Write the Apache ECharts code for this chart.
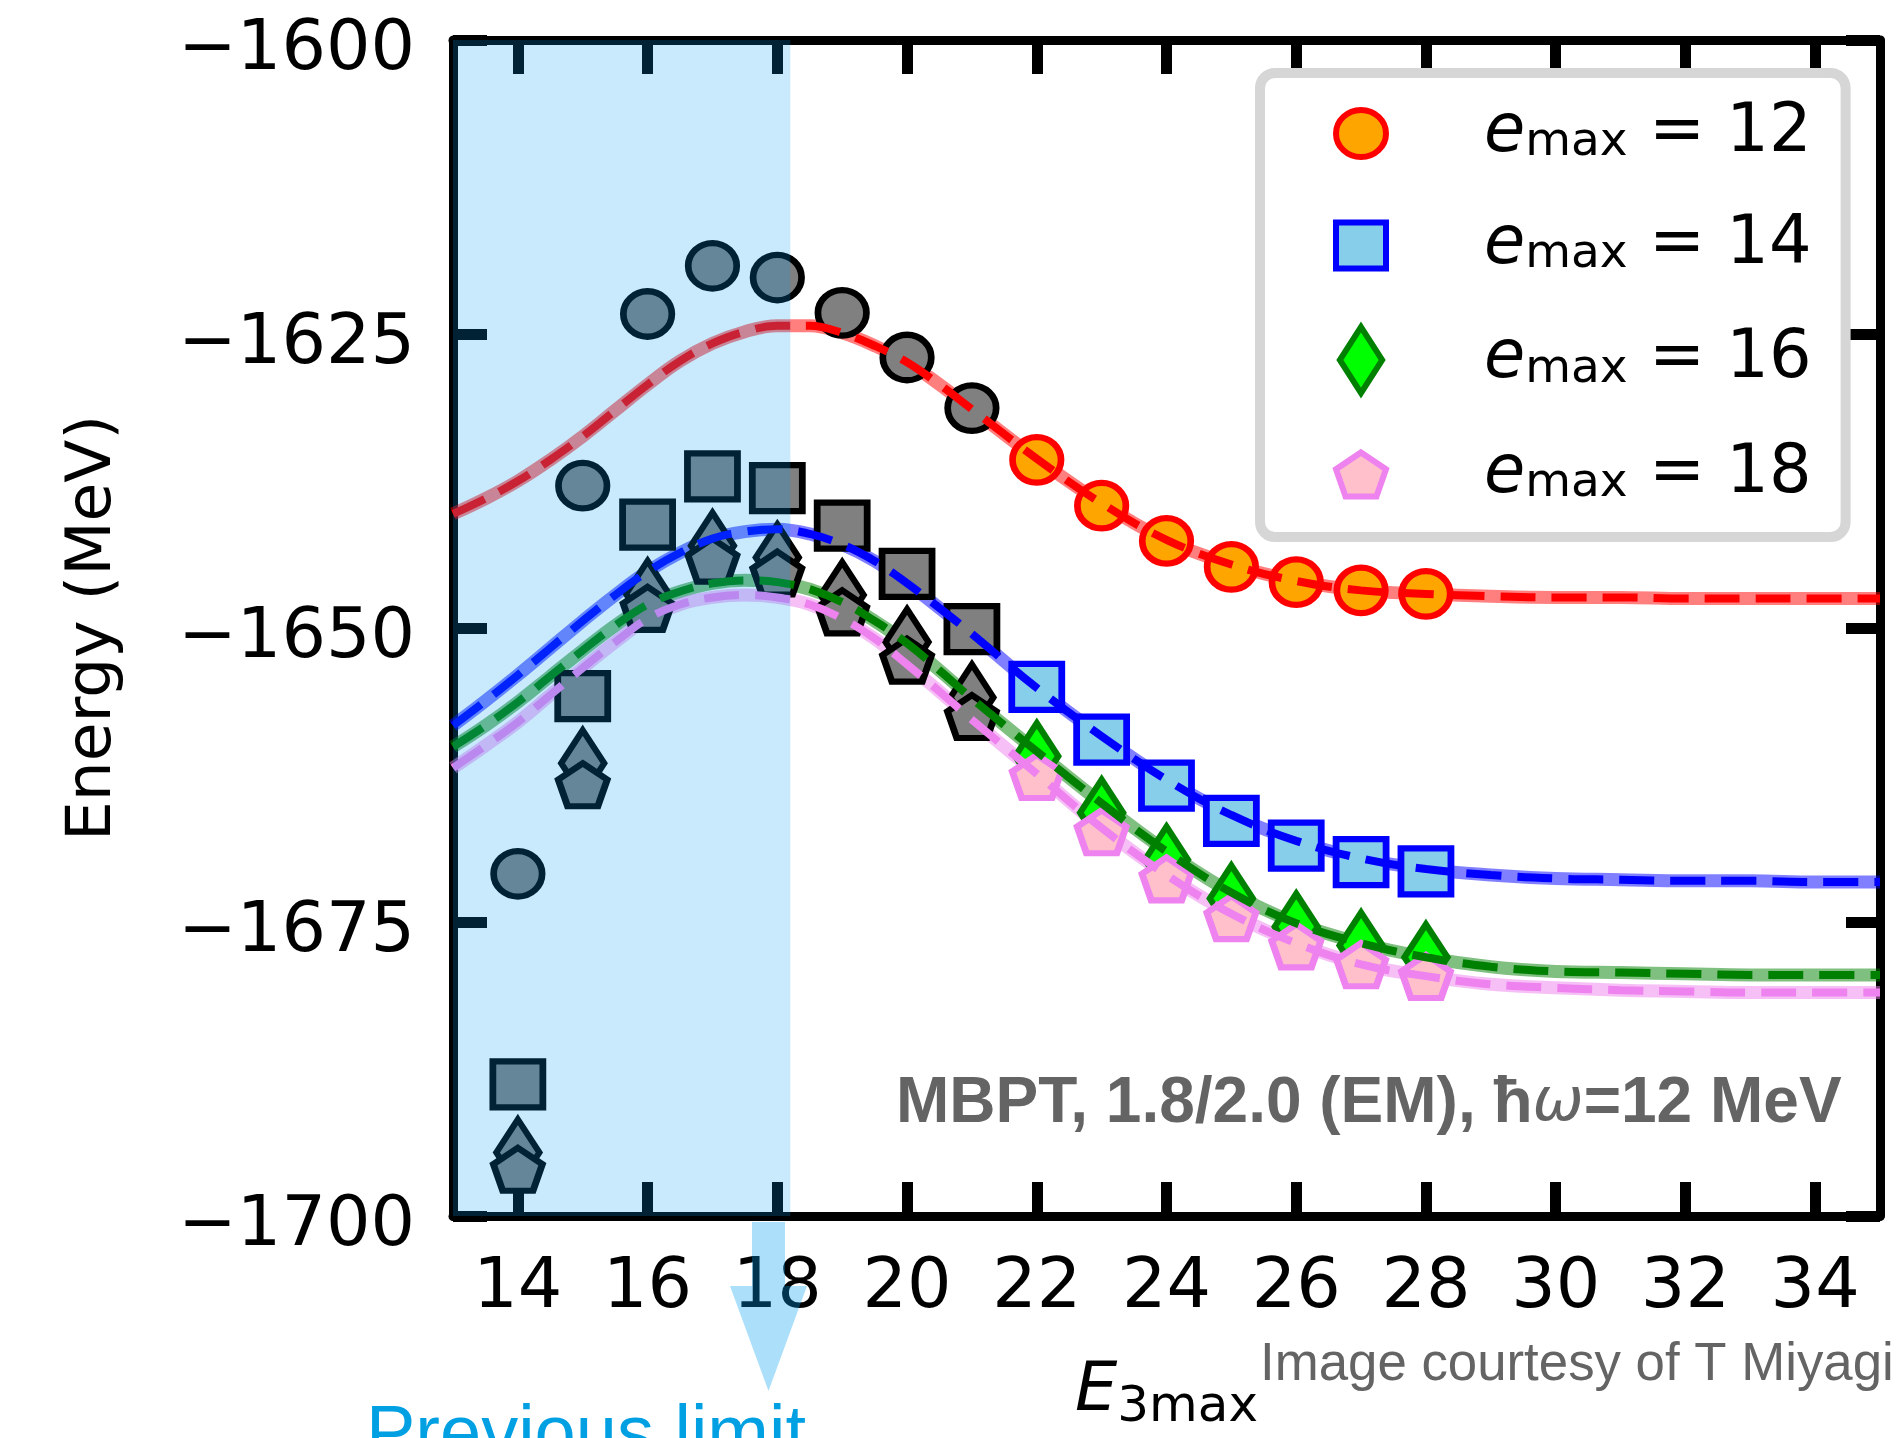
<!DOCTYPE html>
<html>
<head>
<meta charset="utf-8">
<script src="https://cdn.jsdelivr.net/npm/echarts@6/dist/echarts.min.js"></script>
<style>
  html, body { margin: 0; padding: 0; background: #ffffff; }
  #chart { width: 1900px; height: 1438px; }
</style>
</head>
<body>
<div id="chart"></div>
<script>
// E3max values of the many-body calculations
const e3max = [14, 15, 16, 17, 18, 19, 20, 21, 22, 23, 24, 25, 26, 27, 28];
// points from this E3max on enter the extrapolation fit (coloured markers)
const fitStart = 22;
// upper end of the previously reachable E3max range
const previousLimit = 18.2;
const emaxValues = [12, 14, 16, 18];

// ground-state energies (MeV)
const energyEmax12 = [-1670.9, -1637.9, -1623.3, -1619.2, -1620.2, -1623.2, -1627.0, -1631.3, -1635.7, -1639.6, -1642.6, -1644.8, -1646.1, -1646.8, -1647.1];
const energyEmax14 = [-1688.8, -1655.8, -1641.2, -1637.1, -1638.1, -1641.3, -1645.4, -1650.1, -1655.0, -1659.5, -1663.4, -1666.4, -1668.5, -1669.9, -1670.7];
const energyEmax16 = [-1694.6, -1661.5, -1647.1, -1643.0, -1644.0, -1647.2, -1651.2, -1655.9, -1660.9, -1665.7, -1669.7, -1673.0, -1675.4, -1677.0, -1678.0];
const energyEmax18 = [-1696.2, -1663.5, -1648.5, -1644.4, -1645.5, -1648.8, -1652.9, -1657.7, -1662.8, -1667.5, -1671.5, -1674.8, -1677.2, -1678.8, -1679.8];

// fitted curves, sampled along E3max
const curveX = [13, 13.5, 14, 14.5, 15, 15.5, 16, 16.5, 17, 17.5, 18, 18.5, 19, 19.5, 20, 20.5, 21,
                22, 23, 24, 25, 26, 27, 28, 29, 30, 31, 32, 33, 34, 35];
const curveEmax12 = [-1640.3, -1639.0, -1637.5, -1635.7, -1633.7, -1631.5, -1629.3, -1627.3, -1625.8, -1624.8, -1624.3, -1624.3, -1624.9, -1626.0, -1627.4, -1629.3, -1631.4,
                     -1635.6, -1639.4, -1642.5, -1644.6, -1646.0, -1646.8, -1647.1, -1647.3, -1647.4, -1647.4, -1647.5, -1647.5, -1647.5, -1647.5];
const curveEmax14 = [-1658.3, -1656.2, -1654.0, -1651.7, -1649.4, -1647.2, -1645.2, -1643.6, -1642.4, -1641.8, -1641.6, -1642.0, -1642.9, -1644.3, -1646.2, -1648.3, -1650.5,
                     -1655.1, -1659.2, -1662.9, -1665.9, -1668.1, -1669.6, -1670.5, -1671.0, -1671.3, -1671.4, -1671.5, -1671.5, -1671.6, -1671.6];
const curveEmax16 = [-1660.1, -1658.3, -1656.3, -1654.1, -1651.9, -1649.8, -1648.0, -1646.9, -1646.2, -1645.95, -1646.1, -1646.7, -1647.8, -1649.4, -1651.3, -1653.6, -1656.0,
                     -1660.5, -1664.9, -1669.0, -1672.5, -1675.1, -1676.8, -1678.0, -1678.8, -1679.2, -1679.3, -1679.4, -1679.5, -1679.5, -1679.5];
const curveEmax18 = [-1661.9, -1660.0, -1658.0, -1655.7, -1653.4, -1651.2, -1649.2, -1648.0, -1647.4, -1647.2, -1647.4, -1648.0, -1649.2, -1650.9, -1653.1, -1655.4, -1657.8,
                     -1662.4, -1667.0, -1671.0, -1674.3, -1676.8, -1678.6, -1679.6, -1680.3, -1680.6, -1680.8, -1680.9, -1681.0, -1681.0, -1681.0];

// axis ticks
const xTickValues = [14, 16, 18, 20, 22, 24, 26, 28, 30, 32, 34];
const xRange = [13, 35];
const yRange = [-1700, -1600];
const yStep = 25;

// ---------- styles ----------
const FONT = 'DejaVu Sans';
const symbols = {
  circle: 'path://M-1,0A1,0.94,0,1,1,1,0A1,0.94,0,1,1,-1,0Z',
  square: 'path://M-1,-0.92L1,-0.92L1,0.92L-1,0.92Z',
  diamond: 'path://M0,-1L0.64,0L0,1L-0.64,0Z',
  pentagon: 'path://M0,-0.93L0.951,-0.287L0.588,0.752L-0.588,0.752L-0.951,-0.287Z'
};
const sets = [
  { emax: emaxValues[0], energy: energyEmax12, curve: curveEmax12, symbol: symbols.circle,   size: [48.5, 45.5], offset: [0, 0],
    fill: '#ffa500', edge: '#ff0000', band: 'rgba(255,0,0,0.5)' },
  { emax: emaxValues[1], energy: energyEmax14, curve: curveEmax14, symbol: symbols.square,   size: [50, 46], offset: [0, 0],
    fill: '#87ceeb', edge: '#0000ff', band: 'rgba(0,0,255,0.5)' },
  { emax: emaxValues[2], energy: energyEmax16, curve: curveEmax16, symbol: symbols.diamond,  size: [43, 66], offset: [0, 0],
    fill: '#00ff00', edge: '#008000', band: 'rgba(0,128,0,0.5)' },
  { emax: emaxValues[3], energy: energyEmax18, curve: curveEmax18, symbol: symbols.pentagon, size: [49, 43], offset: [0, -2],
    fill: '#ffc0cb', edge: '#ee82ee', band: 'rgba(238,130,238,0.5)' }
];
const seriesName = s => 'emax=' + s.emax;
const grayStyle = { color: '#808080', borderColor: '#000000' };

const series = [];
// translucent bands under the fitted curves
sets.forEach((s, k) => {
  series.push({
    type: 'line', name: 'band' + k, z: 2, silent: true, smooth: 0.4, showSymbol: false,
    data: curveX.map((x, i) => [x, s.curve[i]]),
    lineStyle: { color: s.band, width: 13, cap: 'butt' },
    markArea: k === 0 ? {
      silent: true, z: 10,
      itemStyle: { color: 'rgba(0,157,241,0.216)', borderWidth: 0 },
      data: [[{ xAxis: xRange[0] }, { xAxis: previousLimit }]]
    } : undefined
  });
});
// computed energies
sets.forEach(s => {
  series.push({
    type: 'scatter', name: seriesName(s), z: 3, silent: true,
    symbol: s.symbol, symbolSize: s.size, symbolOffset: s.offset, symbolKeepAspect: false,
    itemStyle: { color: s.fill, borderColor: s.edge, borderWidth: 6.5, borderJoin: 'miter', opacity: 1 },
    data: e3max.map((x, i) => x < fitStart
      ? { value: [x, s.energy[i]], itemStyle: grayStyle }
      : { value: [x, s.energy[i]] })
  });
});
// dashed fitted curves on top of the markers
sets.forEach((s, k) => {
  series.push({
    type: 'line', name: 'fit' + k, z: 4, silent: true, smooth: 0.4, showSymbol: false,
    data: curveX.map((x, i) => [x, s.curve[i]]),
    lineStyle: { color: s.edge, width: 8, type: [35, 16], cap: 'butt' }
  });
});

const axisLineStyle = { show: true, onZero: false, lineStyle: { color: '#000000', width: 9 } };
const tickStyle = { show: true, inside: true, length: 34, lineStyle: { color: '#000000', width: 11 } };

const chart = echarts.init(document.getElementById('chart'), null, { renderer: 'canvas' });
chart.setOption({
  animation: false,
  backgroundColor: '#ffffff',
  grid: { left: 453, right: 20, top: 40, bottom: 222, containLabel: false, outerBoundsMode: 'none' },
  xAxis: [
    {
      type: 'value', position: 'bottom', min: xRange[0], max: xRange[1],
      axisLine: axisLineStyle,
      axisTick: Object.assign({}, tickStyle, { customValues: xTickValues }),
      axisLabel: { customValues: xTickValues, fontFamily: FONT, fontSize: 70, color: '#000000', margin: 38 },
      splitLine: { show: false },
      name: '{E|E}{s|3max}', nameLocation: 'middle', nameGap: 137,
      nameTextStyle: {
        color: '#000000',
        rich: {
          E: { fontFamily: FONT, fontStyle: 'italic', fontSize: 67, lineHeight: 80, color: '#000000' },
          s: { fontFamily: FONT, fontSize: 50, lineHeight: 45, verticalAlign: 'bottom', color: '#000000' }
        }
      }
    },
    {
      type: 'value', position: 'top', min: xRange[0], max: xRange[1],
      axisLine: axisLineStyle,
      axisTick: Object.assign({}, tickStyle, { customValues: xTickValues }),
      axisLabel: { show: false }, splitLine: { show: false }
    }
  ],
  yAxis: [
    {
      type: 'value', position: 'left', min: yRange[0], max: yRange[1], interval: yStep,
      axisLine: axisLineStyle, axisTick: tickStyle,
      axisLabel: {
        fontFamily: FONT, fontSize: 70, color: '#000000', margin: 38,
        verticalAlign: 'top', lineHeight: 22,
        formatter: v => (v < 0 ? '\u2212' : '') + Math.abs(v)
      },
      splitLine: { show: false },
      name: 'Energy (MeV)', nameLocation: 'middle', nameGap: 328, nameRotate: 90,
      nameTextStyle: { fontFamily: FONT, fontSize: 63, color: '#000000' }
    },
    {
      type: 'value', position: 'right', min: yRange[0], max: yRange[1], interval: yStep,
      axisLine: axisLineStyle, axisTick: tickStyle,
      axisLabel: { show: false }, splitLine: { show: false }
    }
  ],
  legend: {
    orient: 'vertical', left: 1260, top: 73,
    padding: [27, 34, 29, 73],
    itemWidth: 50, itemHeight: 66, itemGap: 45,
    backgroundColor: '#ffffff', borderColor: '#d6d6d6', borderWidth: 10, borderRadius: 15,
    z: 20, selectedMode: false, symbolKeepAspect: true,
    itemStyle: { borderWidth: 6 },
    data: sets.map(s => ({ name: seriesName(s), icon: s.symbol })),
    formatter: name => {
      const s = sets.find(t => seriesName(t) === name);
      return '{e|e}{m|max}{r| = ' + s.emax + '}';
    },
    textStyle: {
      color: '#000000',
      rich: {
        e: { fontFamily: FONT, fontStyle: 'italic', fontSize: 67, lineHeight: 66, padding: [0, 0, 0, 93], color: '#000000' },
        m: { fontFamily: FONT, fontSize: 47, lineHeight: 29, verticalAlign: 'bottom', color: '#000000' },
        r: { fontFamily: FONT, fontSize: 67, lineHeight: 66, color: '#000000' }
      }
    }
  },
  graphic: [
    {
      type: 'text', x: 896, y: 1104, z: 30, silent: true,
      style: {
        text: '{b|MBPT, 1.8/2.0 (EM), \u0127}{w|\u03c9}{b|=12 MeV}',
        verticalAlign: 'middle', align: 'left',
        rich: {
          b: { fontFamily: 'Liberation Sans', fontWeight: 'bold', fontSize: 64, fill: '#646464' },
          w: { fontFamily: FONT, fontStyle: 'italic', fontSize: 61, fill: '#646464' }
        }
      }
    },
    {
      type: 'text', x: 1260, y: 1365, z: 30, silent: true,
      style: {
        text: 'Image courtesy of T Miyagi', fontFamily: 'Liberation Sans', fontSize: 52.8,
        fill: '#646464', verticalAlign: 'middle', align: 'left'
      }
    },
    {
      type: 'polygon', z: 30, silent: true,
      shape: { points: [[752, 1222], [785, 1222], [785, 1286], [807, 1286], [768.5, 1391], [730, 1286], [752, 1286]] },
      style: { fill: 'rgba(0,157,241,0.33)' }
    },
    {
      type: 'text', x: 366, y: 1437, z: 30, silent: true,
      style: {
        text: 'Previous limit', fontFamily: 'Liberation Sans', fontSize: 74,
        fill: '#00a0e3', verticalAlign: 'middle', align: 'left'
      }
    }
  ],
  series: series
});
</script>
</body>
</html>
